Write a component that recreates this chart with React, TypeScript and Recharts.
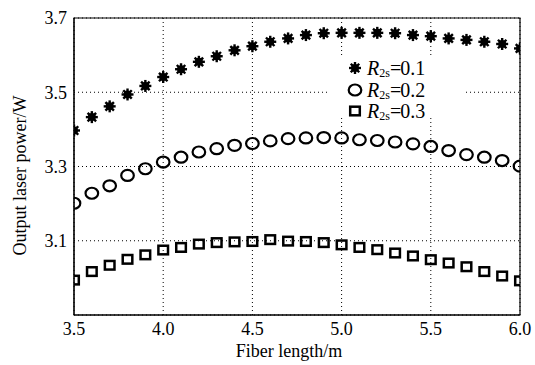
import {
  CartesianGrid,
  Label,
  ReferenceArea,
  Scatter,
  ScatterChart,
  XAxis,
  YAxis,
} from "recharts";

const lengths = [
  3.5, 3.6, 3.7, 3.8, 3.9, 4.0, 4.1, 4.2, 4.3, 4.4, 4.5, 4.6, 4.7,
  4.8, 4.9, 5.0, 5.1, 5.2, 5.3, 5.4, 5.5, 5.6, 5.7, 5.8, 5.9, 6.0,
];

const powerR01 = [
  3.397, 3.433, 3.462, 3.494, 3.517, 3.541, 3.562, 3.582, 3.597, 3.613, 3.624,
  3.636, 3.645, 3.654, 3.659, 3.66, 3.66, 3.66, 3.659, 3.654, 3.651, 3.645,
  3.641, 3.636, 3.63, 3.618,
];

const powerR02 = [
  3.201, 3.228, 3.248, 3.276, 3.294, 3.312, 3.325, 3.339, 3.348, 3.357, 3.362,
  3.369, 3.375, 3.377, 3.378, 3.377, 3.372, 3.37, 3.366, 3.361, 3.354, 3.343,
  3.332, 3.325, 3.316, 3.301,
];

const powerR03 = [
  2.994, 3.017, 3.034, 3.05, 3.062, 3.075, 3.082, 3.091, 3.095, 3.097, 3.098,
  3.103, 3.099, 3.098, 3.095, 3.089, 3.082, 3.076, 3.067, 3.059, 3.049, 3.04,
  3.03, 3.017, 3.005, 2.992,
];

const xTicks = [3.5, 4.0, 4.5, 5.0, 5.5, 6.0];
const yTicks = [3.1, 3.3, 3.5, 3.7];
const legendLabels = ["0.1", "0.2", "0.3"];

const toPoints = (ys: number[]) => lengths.map((x, i) => ({ x, y: ys[i] }));

const FONT = '"Liberation Serif", "Times New Roman", serif';

function Star({ cx, cy }: any) {
  const r = 6;
  const d = r * Math.SQRT1_2;
  return (
    <g stroke="#000" strokeWidth={2.4}>
      <line x1={cx - r} y1={cy} x2={cx + r} y2={cy} />
      <line x1={cx} y1={cy - r} x2={cx} y2={cy + r} />
      <line x1={cx - d} y1={cy - d} x2={cx + d} y2={cy + d} />
      <line x1={cx - d} y1={cy + d} x2={cx + d} y2={cy - d} />
      <circle cx={cx} cy={cy} r={2.8} fill="#000" />
    </g>
  );
}

function Ring({ cx, cy }: any) {
  return <ellipse cx={cx} cy={cy} rx={6.3} ry={5.5} fill="none" stroke="#000" strokeWidth={2.2} />;
}

function Box({ cx, cy }: any) {
  return (
    <rect x={cx - 4.8} y={cy - 4.3} width={9.6} height={8.6} fill="none" stroke="#000" strokeWidth={2.5} />
  );
}

const markers = [Star, Ring, Box];

// legend drawn as an overlay so it doesn't eat chart space
function LegendBox() {
  return (
    <div
      style={{
        position: "absolute",
        left: 330,
        top: 57,
        background: "#fff",
        width: 133,
        height: 58,
        fontFamily: FONT,
        fontSize: 20,
        color: "#000",
      }}
    >
      {legendLabels.map((v, i) => {
        const M = markers[i];
        return (
          <div
            key={v}
            style={{
              position: "absolute",
              left: 17,
              top: 0 + i * 21.5,
              height: 22,
              display: "flex",
              alignItems: "center",
              lineHeight: "22px",
              whiteSpace: "nowrap",
            }}
          >
            <svg width={16} height={16} style={{ marginRight: 4 }}>
              <M cx={8} cy={8} />
            </svg>
            <span style={{ fontStyle: "italic" }}>R</span>
            <span style={{ fontSize: 12, position: "relative", top: 5 }}>2s</span>
            <span style={{ letterSpacing: -1 }}>=</span>
            <span>{v}</span>
          </div>
        );
      })}
    </div>
  );
}

export default function App() {
  const tickStyle = { fill: "#000", fontSize: 18, fontFamily: FONT };
  return (
    <div style={{ position: "absolute", left: 0, top: 0, width: 535, height: 365, background: "#fff" }}>
      <ScatterChart
        width={535}
        height={365}
        margin={{ top: 18, right: 15, left: 0, bottom: 0 }}
      >
        <CartesianGrid stroke="#000" strokeWidth={1} strokeDasharray="1 3" />
        <XAxis
          type="number"
          dataKey="x"
          domain={[3.5, 6.0]}
          ticks={xTicks}
          tickFormatter={(v: number) => v.toFixed(1)}
          tick={tickStyle}
          tickLine={false}
          tickSize={0}
          tickMargin={7}
          height={50}
          stroke="#000"
          allowDataOverflow
        >
          <Label
            content={({ viewBox }: any) => (
              <text
                x={viewBox.x + viewBox.width / 2 - 8}
                y={357}
                textAnchor="middle"
                fill="#000"
                fontSize={18}
                fontFamily={FONT}
              >
                Fiber length/m
              </text>
            )}
          />
        </XAxis>
        <YAxis
          type="number"
          dataKey="y"
          domain={[2.9, 3.7]}
          ticks={yTicks}
          tickFormatter={(v: number) => v.toFixed(1)}
          tick={tickStyle}
          tickLine={false}
          tickSize={0}
          tickMargin={7}
          width={74}
          stroke="#000"
          allowDataOverflow
        >
          <Label
            content={({ viewBox }: any) => {
              const cy = viewBox.y + viewBox.height / 2 + 9;
              return (
                <text
                  x={20}
                  y={cy}
                  transform={`rotate(-90, 20, ${cy})`}
                  textAnchor="middle"
                  dominantBaseline="central"
                  fill="#000"
                  fontSize={18}
                  fontFamily={FONT}
                >
                  Output laser power/W
                </text>
              );
            }}
          />
        </YAxis>
        <ReferenceArea
          x1={3.5}
          x2={6.0}
          y1={2.9}
          y2={3.7}
          fill="none"
          stroke="#000"
          strokeWidth={1.2}
          ifOverflow="visible"
        />
        <Scatter data={toPoints(powerR01)} shape={<Star />} isAnimationActive={false} />
        <Scatter data={toPoints(powerR02)} shape={<Ring />} isAnimationActive={false} />
        <Scatter data={toPoints(powerR03)} shape={<Box />} isAnimationActive={false} />
      </ScatterChart>
      <LegendBox />
    </div>
  );
}
